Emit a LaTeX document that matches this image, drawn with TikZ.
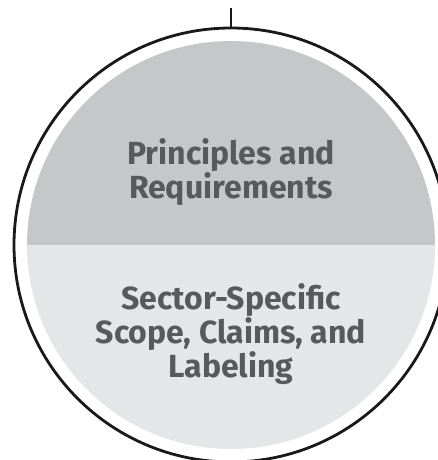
\documentclass[tikz,border=0pt]{standalone}
\usepackage{fontspec}
\newfontfamily\blockfont{Fira Sans}
\definecolor{topgray}{HTML}{C6C7C8}
\definecolor{lowgray}{HTML}{E5E6E7}
\definecolor{textgray}{HTML}{58595B}
\tikzset{
  blocktext/.style={align=center, inner sep=0pt, text=textgray,
    font=\blockfont\bfseries\fontsize{32}{31}\selectfont},
  ring/.style={draw=black!90, line width=2.8pt}
}
\begin{document}
\begin{tikzpicture}[x=1pt,y=1pt]
%% Fix the page to the size of the reference
\useasboundingbox (0,0) rectangle (438,-460);
\coordinate (c) at (231,-245);
\coordinate (stem) at (231,-8);
%% The two halves of the inner disc
\fill[topgray] (c) ++(-204,0) arc[start angle=180, end angle=0, radius=204pt] -- cycle;
\fill[lowgray] (c) ++(-204,0) arc[start angle=180, end angle=360, radius=204pt] -- cycle;
%% Outer ring and the stem on top of it
\draw[ring] (c) circle (217pt);
\coordinate (ringtop) at (231,-28);
\draw[ring] (stem) -- (ringtop);
%% Labels
\node[blocktext] (principles) at (231,-172) {Principles and\\Requirements};
\node[blocktext] (sector) at (231,-334) {Sector-Specific\\Scope, Claims, and\\Labeling};
\end{tikzpicture}
\end{document}
